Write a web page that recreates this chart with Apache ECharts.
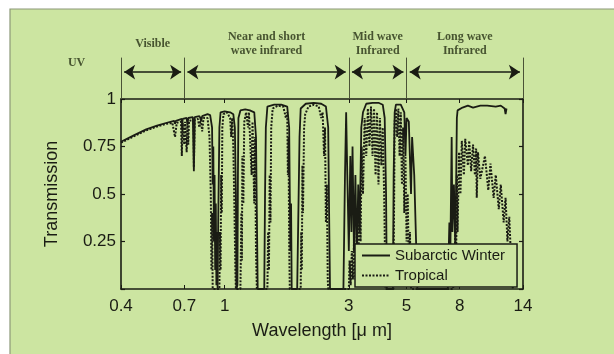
<!DOCTYPE html>
<html>
<head>
<meta charset="utf-8">
<title>Atmospheric transmission</title>
<script src="https://cdn.jsdelivr.net/npm/echarts@6.0.0/dist/echarts.min.js"></script>
<style>
  html, body { margin: 0; padding: 0; background: #fff; }
  #chart { width: 614px; height: 354px; }
</style>
</head>
<body>
<div id="chart"></div>
<script>
// 波长刻度 (μm) 与透射率刻度
var xTicks = [0.4, 0.7, 1, 3, 5, 8, 14];
var yTicks = [0, 0.25, 0.5, 0.75, 1];

// 光谱分区：边界与名称
var bandEdges = [0.4, 0.7, 3, 5, 14];
var bandNames = ['Visible', 'Near and short\nwave infrared', 'Mid wave\nInfrared', 'Long wave\nInfrared'];

// Subarctic Winter 透射率 [波长 μm, 透射率]
var subarcticWinter = [
  [0.40,0.775],[0.45,0.81],[0.50,0.84],[0.55,0.86],[0.60,0.875],[0.64,0.885],[0.645,0.87],[0.65,0.885],
  [0.685,0.895],[0.687,0.84],[0.69,0.895],[0.715,0.90],[0.72,0.86],[0.725,0.90],[0.755,0.905],[0.762,0.62],
  [0.768,0.905],[0.80,0.91],[0.815,0.89],[0.82,0.91],[0.86,0.92],[0.88,0.915],[0.895,0.85],[0.90,0.55],
  [0.905,0.75],[0.91,0.25],[0.915,0.6],[0.92,0.1],[0.925,0.45],[0.93,0.02],[0.935,0.3],[0.94,0.0],
  [0.945,0.35],[0.95,0.6],[0.955,0.85],[0.965,0.93],[1.0,0.935],[1.05,0.93],[1.08,0.92],[1.095,0.85],
  [1.105,0.5],[1.11,0.0],[1.12,0.02],[1.125,0.6],[1.13,0.9],[1.15,0.94],[1.2,0.945],[1.25,0.94],
  [1.3,0.93],[1.32,0.8],[1.33,0.4],[1.34,0.0],[1.42,0.0],[1.43,0.5],[1.44,0.85],[1.46,0.96],
  [1.55,0.97],[1.65,0.97],[1.74,0.96],[1.77,0.85],[1.78,0.5],[1.79,0.2],[1.8,0.45],[1.81,0.0],
  [1.9,0.0],[1.92,0.4],[1.94,0.8],[1.96,0.95],[2.05,0.975],[2.2,0.98],[2.35,0.975],[2.45,0.96],
  [2.5,0.85],[2.52,0.4],[2.54,0.0],[2.86,0.0],[2.9,0.6],[2.93,0.93],[2.96,0.6],[3.0,0.2],
  [3.04,0.7],[3.07,0.3],[3.1,0.75],[3.14,0.2],[3.18,0.6],[3.22,0.15],[3.26,0.55],[3.3,0.3],
  [3.35,0.85],[3.4,0.93],[3.5,0.975],[3.7,0.98],[3.9,0.98],[4.05,0.97],[4.12,0.9],[4.17,0.5],
  [4.2,0.0],[4.43,0.0],[4.46,0.6],[4.5,0.93],[4.55,0.97],[4.75,0.97],[4.9,0.93],[4.95,0.7],
  [5.0,0.9],[5.1,0.88],[5.2,0.5],[5.25,0.8],[5.35,0.6],[5.45,0.2],[5.5,0.0],[7.2,0.0],
  [7.3,0.35],[7.35,0.1],[7.45,0.8],[7.5,0.3],[7.6,0.55],[7.7,0.2],[7.8,0.9],[7.85,0.94],
  [8.2,0.955],[8.6,0.965],[9.0,0.955],[9.6,0.965],[10.2,0.965],[11.0,0.96],[11.5,0.965],[11.9,0.95],
  [12.0,0.92],[12.1,0.95]
];

// Tropical 透射率 [波长 μm, 透射率]
var tropical = [
  [0.40,0.77],[0.45,0.805],[0.50,0.835],[0.55,0.855],[0.60,0.87],[0.63,0.875],[0.645,0.80],[0.655,0.875],
  [0.68,0.88],[0.685,0.70],[0.69,0.875],[0.70,0.76],[0.705,0.88],[0.715,0.72],[0.72,0.86],[0.725,0.76],
  [0.73,0.885],[0.76,0.89],[0.762,0.64],[0.768,0.89],[0.79,0.895],[0.80,0.85],[0.81,0.9],[0.82,0.83],
  [0.83,0.9],[0.86,0.9],[0.875,0.8],[0.885,0.5],[0.89,0.1],[0.895,0.4],[0.9,0.0],[0.955,0.0],
  [0.96,0.3],[0.965,0.1],[0.97,0.6],[0.975,0.4],[0.98,0.85],[0.99,0.92],[1.02,0.93],[1.05,0.9],
  [1.06,0.8],[1.07,0.9],[1.08,0.75],[1.09,0.45],[1.1,0.1],[1.105,0.0],[1.15,0.0],[1.16,0.4],
  [1.165,0.15],[1.17,0.7],[1.18,0.45],[1.19,0.88],[1.21,0.93],[1.23,0.85],[1.24,0.93],[1.26,0.92],
  [1.27,0.6],[1.28,0.88],[1.3,0.45],[1.31,0.8],[1.32,0.2],[1.33,0.0],[1.46,0.0],[1.47,0.3],
  [1.48,0.1],[1.49,0.6],[1.5,0.35],[1.51,0.85],[1.53,0.95],[1.6,0.965],[1.68,0.96],[1.72,0.9],
  [1.74,0.93],[1.75,0.6],[1.76,0.8],[1.77,0.25],[1.78,0.0],[1.96,0.0],[1.97,0.3],[1.98,0.1],
  [1.99,0.65],[2.0,0.4],[2.02,0.85],[2.04,0.92],[2.1,0.96],[2.2,0.97],[2.3,0.96],[2.35,0.9],
  [2.38,0.93],[2.41,0.7],[2.43,0.85],[2.45,0.35],[2.47,0.55],[2.49,0.05],[2.5,0.0],[3.0,0.0],
  [3.02,0.15],[3.05,0.02],[3.08,0.2],[3.11,0.05],[3.14,0.25],[3.18,0.05],[3.22,0.3],[3.26,0.1],
  [3.3,0.5],[3.33,0.25],[3.36,0.75],[3.4,0.5],[3.45,0.9],[3.5,0.7],[3.55,0.95],[3.6,0.75],
  [3.65,0.96],[3.7,0.7],[3.75,0.95],[3.8,0.6],[3.85,0.93],[3.9,0.55],[3.95,0.9],[4.0,0.65],
  [4.05,0.85],[4.1,0.5],[4.13,0.2],[4.15,0.0],[4.45,0.0],[4.48,0.5],[4.5,0.88],[4.55,0.95],
  [4.6,0.8],[4.65,0.95],[4.7,0.7],[4.75,0.93],[4.8,0.55],[4.85,0.85],[4.9,0.4],[4.95,0.7],
  [5.0,0.25],[5.05,0.5],[5.1,0.1],[5.15,0.3],[5.2,0.0],[7.55,0.0],[7.6,0.2],[7.65,0.05],
  [7.7,0.4],[7.75,0.15],[7.8,0.6],[7.85,0.3],[7.95,0.72],[8.05,0.5],[8.15,0.78],[8.3,0.6],
  [8.4,0.79],[8.6,0.65],[8.7,0.78],[8.85,0.62],[9.0,0.76],[9.15,0.6],[9.25,0.74],[9.3,0.48],
  [9.4,0.72],[9.6,0.58],[10.0,0.7],[10.3,0.52],[10.5,0.66],[10.8,0.48],[11.0,0.6],[11.3,0.42],
  [11.5,0.55],[11.8,0.35],[12.0,0.48],[12.2,0.25],[12.4,0.38],[12.6,0.15],[12.8,0.0]
];

document.addEventListener('DOMContentLoaded', function() {
    var ink = '#1a1c14';
    var green = '#cce5a1';
    var lg = function(v) { return Math.log10(v); };
    var xMin = lg(xTicks[0]);
    var xMax = lg(xTicks[xTicks.length - 1]);
    var tickPos = xTicks.map(lg);

    // 对数坐标下的刻度文字
    function xLabel(v) {
        for (var i = 0; i < xTicks.length; i++) {
            if (Math.abs(tickPos[i] - v) < 1e-6) return String(xTicks[i]);
        }
        return '';
    }

    // 顶部分区：箭头、分隔线、名称
    var arrowY = 0.39, dividerTop = 0.6, nameY = 0.8;
    var pad = 0.012;
    var arrows = [], dividers = [], names = [];
    for (var i = 0; i < bandNames.length; i++) {
        var a = lg(bandEdges[i]), b = lg(bandEdges[i + 1]);
        arrows.push([{coord: [a + pad, arrowY]}, {coord: [b - pad, arrowY]}]);
        names.push({name: bandNames[i], value: [(a + b) / 2, nameY]});
    }
    bandEdges.forEach(function(e) {
        dividers.push([{coord: [lg(e), 0]}, {coord: [lg(e), dividerTop]}]);
    });
    names.push({name: 'UV', value: [lg(0.27), 0.52]});

    var myChart = echarts.init(document.getElementById('chart'));

    var axisText = {fontFamily: 'Liberation Sans', fontSize: 17, color: ink};
    var boxLine = {show: true, onZero: false, lineStyle: {color: ink, width: 1.6}};
    var inTick = {show: true, inside: true, length: 4, lineStyle: {color: ink, width: 1.2}};

    var option = {
        animation: false,
        backgroundColor: '#fff',
        graphic: [{
            type: 'rect', z: -10,
            shape: {x: 10, y: 9, width: 610, height: 350},
            style: {fill: green, stroke: '#8c9878', lineWidth: 1.2}
        }],
        grid: [
            {left: 121, right: 91, top: 99, bottom: 65},
            {left: 121, right: 91, top: 30, height: 69}
        ],
        xAxis: [
            {
                type: 'value', gridIndex: 0, min: xMin, max: xMax, position: 'bottom',
                axisLine: boxLine,
                axisTick: {show: true, inside: true, length: 4, customValues: tickPos, lineStyle: {color: ink}},
                axisLabel: Object.assign({customValues: tickPos, formatter: xLabel, margin: 9}, axisText),
                splitLine: {show: false},
                name: 'Wavelength [\u03bc m]', nameLocation: 'middle', nameGap: 33,
                nameTextStyle: {fontFamily: 'Liberation Sans', fontSize: 18, color: ink}
            },
            {
                type: 'value', gridIndex: 0, min: xMin, max: xMax, position: 'top',
                axisLine: boxLine,
                axisTick: {show: true, inside: true, length: 4, customValues: tickPos, lineStyle: {color: ink}},
                axisLabel: {show: false},
                splitLine: {show: false}
            },
            {type: 'value', gridIndex: 1, min: xMin, max: xMax, show: false}
        ],
        yAxis: [
            {
                type: 'value', gridIndex: 0, min: 0, max: 1, interval: 0.25,
                axisLine: boxLine, axisTick: inTick,
                axisLabel: Object.assign({
                    margin: 5,
                    formatter: function(v) { return v === 0 ? '' : String(v); }
                }, axisText),
                splitLine: {show: false},
                name: 'Transmission', nameLocation: 'middle', nameGap: 60,
                nameTextStyle: {fontFamily: 'Liberation Sans', fontSize: 18, color: ink}
            },
            {
                type: 'value', gridIndex: 0, min: 0, max: 1, interval: 0.25, position: 'right',
                axisLine: boxLine, axisTick: inTick,
                axisLabel: {show: false}, splitLine: {show: false}
            },
            {type: 'value', gridIndex: 1, min: 0, max: 1, show: false}
        ],
        legend: {
            data: ['Subarctic Winter', 'Tropical'],
            orient: 'vertical',
            left: 355, top: 244,
            padding: [3, 12, 3, 6],
            itemGap: 3,
            itemWidth: 28, itemHeight: 14,
            itemStyle: {color: 'rgba(0,0,0,0)', borderWidth: 0},
            backgroundColor: green,
            borderColor: ink, borderWidth: 1.5, borderRadius: 0,
            textStyle: {fontFamily: 'Liberation Sans', fontSize: 15, lineHeight: 17, color: ink}
        },
        series: [
            {
                name: 'Tropical', type: 'line', xAxisIndex: 0, yAxisIndex: 0,
                symbol: 'none',
                itemStyle: {color: ink},
                data: tropical.map(function(p) { return [lg(p[0]), p[1]]; }),
                lineStyle: {color: ink, width: 2, type: [2, 1.5]}
            },
            {
                name: 'Subarctic Winter', type: 'line', xAxisIndex: 0, yAxisIndex: 0,
                symbol: 'none',
                itemStyle: {color: ink},
                data: subarcticWinter.map(function(p) { return [lg(p[0]), p[1]]; }),
                lineStyle: {color: ink, width: 1.8}
            },
            {
                // 分区名称与箭头
                type: 'scatter', xAxisIndex: 2, yAxisIndex: 2,
                clip: false, silent: true,
                symbolSize: 1,
                itemStyle: {color: 'rgba(0,0,0,0)'},
                label: {
                    show: true, position: 'inside',
                    formatter: function(p) { return p.name; },
                    fontFamily: 'Liberation Serif', fontWeight: 'bold', fontSize: 12,
                    lineHeight: 14, color: '#263014'
                },
                data: names,
                markLine: {
                    silent: true, animation: false,
                    symbol: ['arrow', 'arrow'], symbolSize: 11,
                    label: {show: false},
                    lineStyle: {color: ink, width: 1.6, type: 'solid'},
                    data: arrows
                }
            },
            {
                type: 'scatter', xAxisIndex: 2, yAxisIndex: 2,
                silent: true, data: [],
                markLine: {
                    silent: true, animation: false,
                    symbol: ['none', 'none'],
                    label: {show: false},
                    lineStyle: {color: '#4a5236', width: 1, type: 'solid'},
                    data: dividers
                }
            }
        ]
    };

    myChart.setOption(option);
});
</script>
</body>
</html>
